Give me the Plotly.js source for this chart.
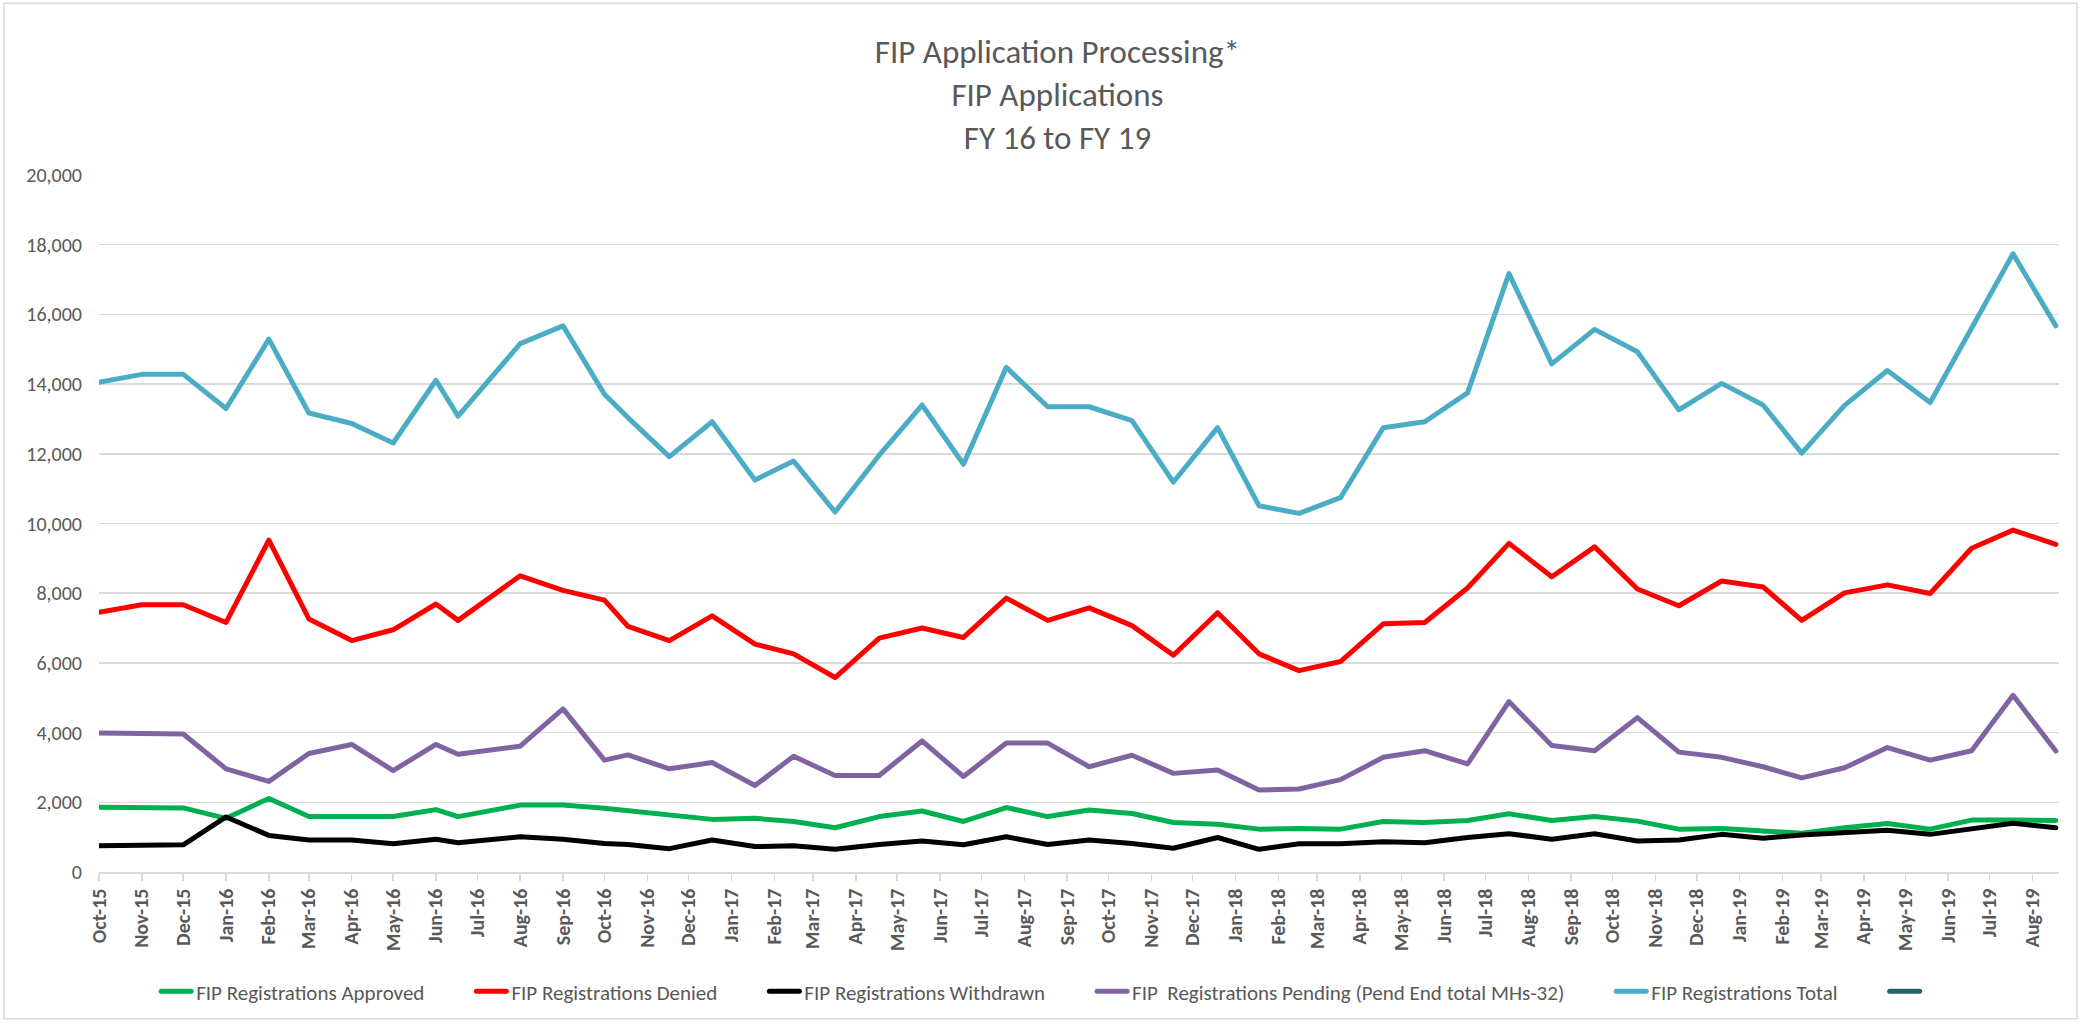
<!DOCTYPE html>
<html>
<head>
<meta charset="utf-8">
<script src="https://cdn.plot.ly/plotly-3.0.1.min.js"></script>
<style>
  html, body { margin: 0; padding: 0; background: #ffffff; }
  #chart { width: 2081px; height: 1023px; }
  .scatterlayer .js-line, .legend .js-line { stroke-linejoin: round; stroke-linecap: round; }
</style>
</head>
<body>
<div id="chart"></div>
<script>
// Reporting dates of each observation (as placed on the chart's date axis)
const dates = [
  "2015-10-01","2015-11-01","2015-12-01","2016-01-01","2016-02-01","2016-03-01",
  "2016-04-01","2016-05-01","2016-06-01","2016-06-17","2016-08-01","2016-09-01",
  "2016-10-01","2016-10-18","2016-11-17","2016-12-18","2017-01-18","2017-02-15",
  "2017-03-17","2017-04-18","2017-05-19","2017-06-18","2017-07-19","2017-08-18",
  "2017-09-17","2017-10-18","2017-11-17","2017-12-19","2018-01-18","2018-02-16",
  "2018-03-18","2018-04-18","2018-05-18","2018-06-18","2018-07-18","2018-08-18",
  "2018-09-18","2018-10-19","2018-11-18","2018-12-19","2019-01-18","2019-02-15",
  "2019-03-18","2019-04-18","2019-05-19","2019-06-18","2019-07-18","2019-08-18"
];

const approved = [1860,1840,1840,1540,2110,1590,1590,1590,1790,1590,1920,1920,
  1830,1760,1630,1510,1540,1450,1270,1590,1750,1450,1850,1590,
  1780,1680,1420,1370,1230,1250,1230,1450,1420,1480,1670,1480,
  1590,1460,1230,1250,1180,1110,1270,1390,1230,1490,1490,1480];

const denied = [7450,7670,7670,7160,9520,7260,6640,6950,7690,7220,8500,8080,
  7800,7050,6640,7350,6540,6260,5580,6710,7000,6730,7860,7220,
  7580,7070,6220,7440,6260,5780,6040,7120,7160,8150,9430,8470,
  9330,8120,7640,8350,8180,7220,8010,8240,7990,9290,9810,9400];

const withdrawn = [750,780,780,1580,1050,920,920,810,940,840,1010,940,
  820,790,670,920,730,750,650,790,890,780,1010,790,
  920,820,680,990,650,810,810,870,840,990,1100,940,
  1100,890,920,1080,970,1060,1130,1200,1080,1250,1400,1270];

const pending = [3990,3960,3960,2960,2600,3400,3660,2910,3660,3380,3610,4680,
  3210,3360,2960,3140,2480,3320,2770,2770,3760,2740,3700,3700,
  3020,3350,2830,2930,2350,2380,2650,3290,3480,3100,4890,3630,
  3480,4430,3440,3290,3020,2700,2990,3570,3210,3480,5070,3470];

const total = [14050,14280,14280,13300,15290,13170,12870,12310,14110,13080,15160,15670,
  13710,13040,11920,12920,11250,11790,10330,11960,13400,11700,14480,13350,
  13350,12950,11190,12750,10510,10290,10740,12750,12920,13750,17170,14580,
  15570,14930,13260,14020,13400,12020,13390,14390,13470,15580,17740,15670];

// sixth legend entry in the source has no name and no values
const blankSeries = dates.map(() => null);

const seriesNames = [
  "FIP Registrations Approved",
  "FIP Registrations Denied",
  "FIP Registrations Withdrawn",
  "FIP\u00a0 Registrations Pending (Pend End total MHs-32)",
  "FIP Registrations Total",
  ""
];
const seriesColors = ["#00B050", "#FF0000", "#000000", "#8064A2", "#4BACC6", "#245F6E"];
const seriesValues = [approved, denied, withdrawn, pending, total, blankSeries];

const FONT = "Carlito, Calibri, Lato, 'Open Sans', sans-serif";
const GREY = "#595959";
const LEGEND_PAD = "\u2003\u2003";   // spacing between legend entries

const traces = seriesValues.map((vals, i) => ({
  type: "scatter",
  mode: "lines",
  x: dates,
  y: vals,
  name: seriesNames[i] + (i < 5 ? LEGEND_PAD : "\u00a0"),
  line: { color: seriesColors[i], width: 5 },
  hoverinfo: "skip"
}));

const layout = {
  width: 2081,
  height: 1023,
  paper_bgcolor: "#ffffff",
  plot_bgcolor: "#ffffff",
  margin: { l: 99, r: 22, t: 175, b: 150, pad: 0 },
  font: { family: FONT, color: GREY },
  title: {
    text: "FIP Application Processing*<br>FIP Applications<br>FY 16 to FY 19",
    font: { family: FONT, size: 33, color: GREY },
    x: 0.489, xref: "paper", xanchor: "center",
    y: 0.938, yref: "container", yanchor: "top"
  },
  xaxis: {
    type: "date",
    range: ["2015-10-01", "2019-08-20 07:00"],
    tick0: "2015-10-01",
    dtick: "M1",
    tickformat: "%b-%y",
    tickangle: -90,
    ticks: "outside",
    ticklen: 7,
    tickwidth: 1.5,
    tickcolor: "#d9d9d9",
    showgrid: false,
    showline: true,
    linecolor: "#d9d9d9",
    linewidth: 1.5,
    zeroline: false,
    tickfont: { family: FONT, size: 20, color: GREY, weight: 600 },
    fixedrange: true
  },
  yaxis: {
    range: [0, 20000],
    dtick: 2000,
    tickformat: ",d",
    showgrid: true,
    gridcolor: "#d9d9d9",
    gridwidth: 1.5,
    zeroline: false,
    showline: false,
    ticks: "",
    ticklabelstandoff: 16,
    tickfont: { family: FONT, size: 20, color: GREY },
    fixedrange: true
  },
  legend: {
    orientation: "h",
    x: 0.483, xanchor: "center",
    y: -0.17, yanchor: "middle",
    font: { family: FONT, size: 21, color: GREY },
    traceorder: "normal"
  },
  shapes: [{
    type: "rect", xref: "paper", yref: "paper",
    x0: (4 - 99) / 1960, x1: (2077 - 99) / 1960,
    y0: (873 - 1020) / 698, y1: (873 - 3) / 698,
    line: { color: "#d9d9d9", width: 1.5 },
    fillcolor: "rgba(0,0,0,0)",
    layer: "below"
  }],
  showlegend: true,
  hovermode: false
};

Plotly.newPlot("chart", traces, layout, { displayModeBar: false, staticPlot: true });
</script>
</body>
</html>
